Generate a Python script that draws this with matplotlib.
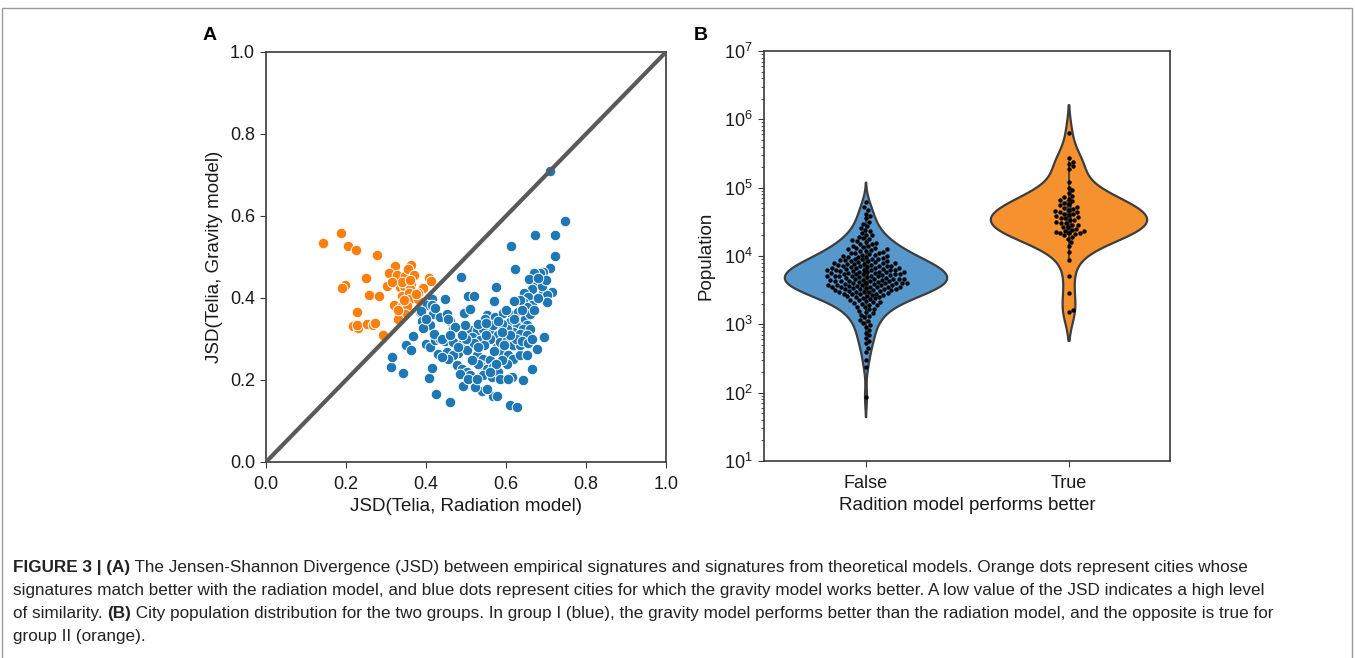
import numpy as np
import matplotlib
matplotlib.use("Agg")
import matplotlib.pyplot as plt
from matplotlib.patches import Rectangle

plt.rcParams['font.family'] = ['Liberation Sans', 'DejaVu Sans']

# ---- panel A: JSD scatter (x = radiation model, y = gravity model)
orange_x = [0.142, 0.187, 0.204, 0.224, 0.278, 0.322, 0.362, 0.307, 0.328, 0.348,
            0.25, 0.407, 0.4125, 0.1975, 0.19, 0.303, 0.335, 0.345, 0.362, 0.359,
            0.393, 0.2575, 0.2825, 0.339, 0.357, 0.36, 0.379, 0.32, 0.339, 0.352,
            0.227, 0.348, 0.33, 0.218, 0.231, 0.227, 0.253, 0.267, 0.273, 0.293,
            0.381, 0.34, 0.355, 0.37, 0.345, 0.33, 0.36, 0.315, 0.375]
orange_y = [0.533, 0.559, 0.526, 0.516, 0.504, 0.478, 0.48, 0.462, 0.456, 0.454,
            0.45, 0.449, 0.4425, 0.431, 0.424, 0.429, 0.427, 0.429, 0.435, 0.423,
            0.424, 0.4075, 0.406, 0.405, 0.412, 0.3985, 0.398, 0.383, 0.38, 0.381,
            0.365, 0.36, 0.35, 0.332, 0.327, 0.335, 0.336, 0.335, 0.339, 0.3105,
            0.411, 0.44, 0.47, 0.455, 0.395, 0.37, 0.445, 0.44, 0.41]

blue_x = [0.71, 0.748, 0.6725, 0.722, 0.6125, 0.722, 0.623, 0.709, 0.693, 0.685,
          0.67, 0.4875, 0.658, 0.685, 0.677, 0.664, 0.574, 0.693, 0.714, 0.702,
          0.702, 0.646, 0.656, 0.643, 0.664, 0.652, 0.635, 0.504, 0.521, 0.4475,
          0.571, 0.621, 0.414, 0.402, 0.414, 0.418, 0.435, 0.452, 0.495, 0.51,
          0.385, 0.389, 0.41, 0.393, 0.46, 0.468, 0.552, 0.5725, 0.593, 0.614,
          0.631, 0.61, 0.631, 0.6475, 0.652, 0.627, 0.643, 0.66, 0.618, 0.635,
          0.652, 0.696, 0.677, 0.664, 0.643, 0.61, 0.627, 0.568, 0.577, 0.539,
          0.552, 0.5225, 0.492, 0.46, 0.425, 0.408, 0.414, 0.343, 0.312, 0.316,
          0.35, 0.362, 0.367, 0.4, 0.41, 0.4225, 0.435, 0.4475, 0.468, 0.489,
          0.506, 0.518, 0.431, 0.452, 0.481, 0.502, 0.477, 0.489, 0.502, 0.51,
          0.485, 0.506, 0.527, 0.543, 0.56, 0.535, 0.552, 0.568, 0.543, 0.564,
          0.581, 0.585, 0.527, 0.577, 0.589, 0.606, 0.618, 0.635, 0.652, 0.602,
          0.614, 0.606, 0.51, 0.527, 0.543, 0.564, 0.581, 0.514, 0.535, 0.56,
          0.585, 0.602, 0.618, 0.635, 0.602, 0.5475, 0.531, 0.4975, 0.4725, 0.568,
          0.589, 0.468, 0.456, 0.439, 0.3875, 0.4225, 0.456, 0.399, 0.421, 0.439,
          0.52, 0.545, 0.57, 0.595, 0.59, 0.575, 0.56, 0.53, 0.515, 0.625,
          0.64, 0.655, 0.665, 0.61, 0.59, 0.55, 0.53, 0.5, 0.49, 0.48,
          0.46, 0.62, 0.66, 0.67, 0.68, 0.69, 0.7, 0.68, 0.64, 0.6,
          0.58, 0.55]
blue_y = [0.71, 0.587, 0.553, 0.553, 0.527, 0.502, 0.471, 0.474, 0.464, 0.46,
          0.462, 0.4515, 0.446, 0.439, 0.431, 0.423, 0.427, 0.419, 0.415, 0.407,
          0.39, 0.411, 0.403, 0.39, 0.382, 0.378, 0.394, 0.404, 0.404, 0.3985,
          0.392, 0.392, 0.3985, 0.382, 0.382, 0.362, 0.354, 0.362, 0.364, 0.372,
          0.366, 0.345, 0.333, 0.327, 0.345, 0.325, 0.358, 0.354, 0.364, 0.359,
          0.366, 0.3415, 0.345, 0.35, 0.333, 0.329, 0.325, 0.325, 0.317, 0.313,
          0.309, 0.305, 0.275, 0.227, 0.199, 0.14, 0.134, 0.162, 0.16, 0.174,
          0.178, 0.1825, 0.1865, 0.147, 0.166, 0.205, 0.23, 0.216, 0.2315, 0.256,
          0.286, 0.274, 0.307, 0.2885, 0.28, 0.2965, 0.301, 0.294, 0.2925, 0.2885,
          0.2965, 0.305, 0.264, 0.268, 0.2665, 0.272, 0.2355, 0.227, 0.219, 0.211,
          0.215, 0.203, 0.26, 0.252, 0.248, 0.2355, 0.227, 0.2315, 0.211, 0.207,
          0.219, 0.203, 0.203, 0.28, 0.268, 0.26, 0.252, 0.26, 0.26, 0.2395,
          0.207, 0.203, 0.321, 0.321, 0.325, 0.317, 0.309, 0.305, 0.2965, 0.301,
          0.2925, 0.2965, 0.2845, 0.2845, 0.325, 0.35, 0.3375, 0.333, 0.329, 0.333,
          0.3375, 0.26, 0.252, 0.256, 0.3685, 0.3755, 0.35, 0.35, 0.313, 0.299,
          0.29, 0.285, 0.27, 0.285, 0.25, 0.24, 0.22, 0.24, 0.25, 0.3,
          0.295, 0.29, 0.3, 0.31, 0.318, 0.31, 0.28, 0.3, 0.31, 0.28,
          0.31, 0.35, 0.36, 0.37, 0.4, 0.43, 0.445, 0.45, 0.37, 0.37,
          0.345, 0.34]

# ---- panel B: city population (log10), grouped by "radiation model performs better"
groups = ['False', 'True']
pop_false_log10 = [
    4.79, 4.72, 4.68, 4.62, 4.58, 4.55, 4.50, 4.47, 4.44, 4.41, 4.38, 4.36, 4.33, 4.31,
    4.30, 4.28, 4.26, 4.25, 4.23, 4.22, 4.20, 4.19, 4.18, 4.17, 4.15, 4.14, 4.13, 4.12,
    4.11, 4.10, 4.10, 4.09, 4.08, 4.07, 4.06, 4.05, 4.05, 4.04, 4.03, 4.02, 4.01, 4.00,
    4.00, 3.99, 3.98, 3.98, 3.97, 3.96, 3.96, 3.95, 3.94, 3.94, 3.93, 3.92, 3.92, 3.91,
    3.90, 3.90, 3.89, 3.88, 3.88, 3.87, 3.87, 3.86, 3.85, 3.85, 3.84, 3.84, 3.83, 3.82,
    3.82, 3.81, 3.81, 3.80, 3.80, 3.79, 3.79, 3.78, 3.78, 3.77, 3.77, 3.76, 3.76, 3.75,
    3.75, 3.74, 3.74, 3.73, 3.73, 3.72, 3.72, 3.71, 3.71, 3.70, 3.70, 3.69, 3.69, 3.68,
    3.68, 3.67, 3.67, 3.66, 3.66, 3.65, 3.65, 3.64, 3.64, 3.63, 3.63, 3.62, 3.62, 3.61,
    3.61, 3.60, 3.60, 3.59, 3.59, 3.58, 3.58, 3.57, 3.57, 3.56, 3.56, 3.55, 3.55, 3.54,
    3.54, 3.53, 3.53, 3.52, 3.52, 3.51, 3.50, 3.50, 3.49, 3.49, 3.48, 3.47, 3.47, 3.46,
    3.45, 3.45, 3.44, 3.43, 3.43, 3.42, 3.41, 3.40, 3.40, 3.39, 3.38, 3.37, 3.36, 3.35,
    3.34, 3.33, 3.32, 3.31, 3.30, 3.29, 3.28, 3.26, 3.25, 3.23, 3.22, 3.20, 3.18, 3.16,
    3.14, 3.12, 3.10, 3.07, 3.05, 3.02, 2.99, 2.96, 2.92, 2.88, 2.84, 2.80, 2.76, 2.72,
    2.66, 2.60, 2.48, 2.38, 1.94,
    3.95, 3.91, 3.86, 3.83, 3.79, 3.76, 3.73, 3.70, 3.67, 3.64, 3.61, 3.58, 3.55, 3.52,
    3.48, 3.44, 3.90, 3.85, 3.80, 3.75, 3.70, 3.65, 3.60, 3.55, 3.50]
pop_true_log10 = [
    5.80, 5.44, 5.38, 5.35, 5.31, 5.28, 5.09, 5.00, 4.96, 4.92, 4.88, 4.86, 4.84, 4.82,
    4.80, 4.78, 4.76, 4.74, 4.72, 4.70, 4.69, 4.68, 4.66, 4.65, 4.64, 4.62, 4.61, 4.60,
    4.58, 4.57, 4.56, 4.55, 4.53, 4.52, 4.50, 4.49, 4.48, 4.46, 4.45, 4.43, 4.42, 4.40,
    4.38, 4.37, 4.36, 4.35, 4.34, 4.33, 4.33, 4.32, 4.30, 4.28, 4.25, 4.20, 4.14, 4.06,
    3.94, 3.70, 3.46, 3.21, 3.18]

C_BLUE, C_ORANGE = '#1f77b4', '#ff7f0e'
V_BLUE, V_ORANGE = '#5698cb', '#f5922f'
EDGE = '#3d3d3d'
SPINE = '#3a3a3a'
TICK_FS = 13
LABEL_FS = 13.5


def style_axes(ax):
    for s in ax.spines.values():
        s.set_color(SPINE)
        s.set_linewidth(1.2)
    ax.tick_params(labelsize=TICK_FS, color=SPINE, labelcolor='#1a1a1a', length=4, pad=4)
    ax.tick_params(axis='x', pad=6)


def beeswarm(vals_px, d):
    # place points in order of value, nearest free spot to the centre line
    order = np.argsort(vals_px)
    xs = np.zeros(len(vals_px))
    placed = []
    for i in order:
        y = vals_px[i]
        near = [(px, py) for px, py in placed if abs(py - y) < d]
        cands = [0.0]
        for px, py in near:
            dx = np.sqrt(d * d - (py - y) ** 2)
            cands += [px + dx, px - dx]
        cands.sort(key=abs)
        for c in cands:
            if all((c - px) ** 2 + (py - y) ** 2 >= d * d - 1e-6 for px, py in near):
                xs[i] = c
                break
        placed.append((xs[i], y))
    return xs


fig = plt.figure(figsize=(13.55, 6.58), dpi=100)

# ---------------- A
ax = fig.add_axes([266 / 1355, 196 / 658, 400 / 1355, 410 / 658])
ax.scatter(blue_x, blue_y, s=58, c=C_BLUE, edgecolors='white', linewidths=0.7, zorder=2)
ax.scatter(orange_x, orange_y, s=58, c=C_ORANGE, edgecolors='white', linewidths=0.7, zorder=2)
ax.plot([0, 1], [0, 1], color='#5a5a5a', lw=3, zorder=3, solid_capstyle='butt')
ax.set_xlim(0, 1)
ax.set_ylim(0, 1)
ax.set_xticks(np.arange(0, 1.01, 0.2))
ax.set_yticks(np.arange(0, 1.01, 0.2))
ax.set_xlabel('JSD(Telia, Radiation model)', fontsize=LABEL_FS, color='#1a1a1a', labelpad=4)
ax.set_ylabel('JSD(Telia, Gravity model)', fontsize=LABEL_FS, color='#1a1a1a', labelpad=5)
style_axes(ax)

# ---------------- B
bx = fig.add_axes([764 / 1355, 197 / 658, 406 / 1355, 410 / 658])
bx.set_yscale('log')
bx.set_ylim(10, 1e7)
bx.set_xlim(-0.5, 1.5)
px_per_dec = 410 / 6
px_per_x = 406 / 2

for pos, vals, fill, half in [(0, pop_false_log10, V_BLUE, 0.40), (1, pop_true_log10, V_ORANGE, 0.385)]:
    v = np.array(vals)
    bw = v.std(ddof=1) * len(v) ** (-1 / 5)
    grid = np.linspace(v.min() - 2 * bw, v.max() + 2 * bw, 300)
    dens = np.exp(-0.5 * ((grid[:, None] - v[None, :]) / bw) ** 2).sum(axis=1)
    w = dens / dens.max() * half
    bx.fill_betweenx(10 ** grid, pos - w, pos + w, facecolor=fill, edgecolor=EDGE, lw=1.6, zorder=1)
    q1, q3 = np.percentile(v, [25, 75])
    iqr = q3 - q1
    lo = v[v >= q1 - 1.5 * iqr].min()
    hi = v[v <= q3 + 1.5 * iqr].max()
    bx.plot([pos, pos], [10 ** lo, 10 ** hi], color=EDGE, lw=1.3, zorder=2)
    bx.plot([pos, pos], [10 ** q1, 10 ** q3], color=EDGE, lw=4, zorder=2)
    offs = beeswarm(v * px_per_dec, 4.6)
    bx.scatter(pos + offs / px_per_x, 10 ** v, s=10, c='black', lw=0, zorder=3)

bx.set_xticks([0, 1])
bx.set_xticklabels(groups)
bx.set_yticks([10 ** k for k in range(1, 8)])
bx.set_xlabel('Radition model performs better', fontsize=LABEL_FS, color='#1a1a1a', labelpad=4)
bx.set_ylabel('Population', fontsize=LABEL_FS, color='#1a1a1a', labelpad=7)
style_axes(bx)
bx.tick_params(axis='y', which='minor', color=SPINE, length=2.5)

# panel letters
fig.text(203 / 1355, 1 - 36 / 658, 'A', fontsize=14, weight='bold', va='center')
fig.text(694 / 1355, 1 - 36 / 658, 'B', fontsize=14, weight='bold', va='center')

# ---------------- caption
cap = fig.add_axes([0, 0, 1, 1], zorder=-1)
cap.axis('off')
cfam = ['Liberation Sans Narrow', 'Liberation Sans', 'DejaVu Sans']
ccol = '#222222'
cfs = 12.3


def cap_line(y_px, pieces):
    prev = None
    for txt, bold in pieces:
        kw = dict(fontsize=cfs, color=ccol, family=cfam, weight='bold' if bold else 'normal',
                  va='baseline', ha='left')
        if prev is None:
            prev = cap.text(13 / 1355, 1 - y_px / 658, txt, transform=fig.transFigure, **kw)
        else:
            prev = cap.annotate(txt, xy=(1, 0), xycoords=prev, xytext=(0, 0),
                                textcoords='offset points', **kw)
            prev.set_va('bottom')


cap_line(572, [('FIGURE 3 | (A)', True),
               (' The Jensen-Shannon Divergence (JSD) between empirical signatures and signatures '
                'from theoretical models. Orange dots represent cities whose', False)])
cap_line(595, [('signatures match better with the radiation model, and blue dots represent cities for '
                'which the gravity model works better. A low value of the JSD indicates a high level', False)])
cap_line(618, [('of similarity. ', False), ('(B)', True),
               (' City population distribution for the two groups. In group I (blue), the gravity model '
                'performs better than the radiation model, and the opposite is true for', False)])
cap_line(641, [('group II (orange).', False)])

fig.add_artist(Rectangle((2 / 1355, -0.02), 1350 / 1355, 0.02 + 1 - 8 / 658,
                         transform=fig.transFigure, fill=False, ec='#9a9a9a', lw=1))

fig.savefig('out.png', dpi=100)
